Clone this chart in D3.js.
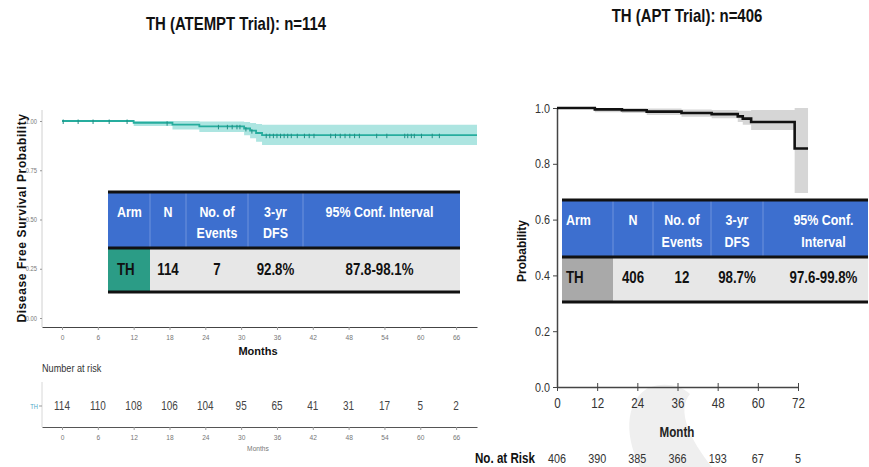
<!DOCTYPE html>
<html>
<head>
<meta charset="utf-8">
<script src="https://cdn.jsdelivr.net/npm/d3@7"></script>
<style>
  html, body { margin: 0; padding: 0; background: #fff; }
  svg { display: block; }
  .narrow { font-family: "Liberation Sans", Arial, sans-serif; }
  .wide { font-family: "Liberation Sans", Arial, sans-serif; }
</style>
</head>
<body>
<svg id="chart" width="869" height="467"></svg>
<script>
// ---- ATEMPT trial (left panel) ----
const atemptTimes  = [0, 12, 18.5, 23, 30.5, 31.5, 32.5, 33.5, 69.5];
const atemptSurv   = [1.0, 0.991, 0.982, 0.973, 0.962, 0.951, 0.939, 0.928, 0.928];
const atemptUpper  = [1.0, 1.0, 1.0, 0.998, 0.995, 0.990, 0.985, 0.981, 0.981];
const atemptLower  = [1.0, 0.974, 0.957, 0.944, 0.928, 0.912, 0.895, 0.878, 0.878];
const atemptCensor = [0.2, 2.7, 5.2, 7.9, 10.9, 17.6, 26.2, 27.7, 28.5, 29.3, 29.8,
  30.8, 31.8, 34.2, 34.8, 35.4, 36.0, 36.6, 37.2, 37.8, 38.4, 39.4, 40.6, 41.4, 42.2,
  45.0, 45.8, 46.6, 47.4, 48.2, 49.0, 49.8, 52.7, 54.4, 57.4, 57.9, 58.5, 59.0, 60.2,
  62.0, 63.2];
const atemptXTicks = [0, 6, 12, 18, 24, 30, 36, 42, 48, 54, 60, 66];
const atemptYTicks = [0, 0.25, 0.5, 0.75, 1.0];
const atemptRisk   = [114, 110, 108, 106, 104, 95, 65, 41, 31, 17, 5, 2];

// ---- APT trial (right panel) ----
const aptTimes  = [0, 11.3, 19.4, 26.8, 37.2, 46.2, 54, 55.5, 58, 71, 75];
const aptSurv   = [1.0, 0.995, 0.992, 0.987, 0.982, 0.978, 0.970, 0.962, 0.950, 0.855, 0.855];
const aptUpper  = [1.0, 1.0, 1.0, 0.998, 0.995, 0.993, 0.990, 0.990, 0.993, 1.0, 1.0];
const aptLower  = [1.0, 0.985, 0.982, 0.975, 0.969, 0.963, 0.950, 0.940, 0.921, 0.695, 0.695];
const aptXTicks = [0, 12, 24, 36, 48, 60, 72];
const aptYTicks = [0, 0.2, 0.4, 0.6, 0.8, 1.0];
const aptRisk   = [406, 390, 385, 366, 193, 67, 5];

// ---- summary tables ----
const atemptHeader = [["Arm"], ["N"], ["No. of", "Events"], ["3-yr", "DFS"], ["95% Conf. Interval"]];
const atemptRow    = ["TH", "114", "7", "92.8%", "87.8-98.1%"];
const aptHeader    = [["Arm"], ["N"], ["No. of", "Events"], ["3-yr", "DFS"], ["95% Conf.", "Interval"]];
const aptRow       = ["TH", "406", "12", "98.7%", "97.6-99.8%"];

const svg = d3.select("#chart");
svg.append("rect").attr("width", 869).attr("height", 467).attr("fill", "#fff");

const toPts = (t, v) => t.map((d, i) => ({ t: d, v: v[i] }));
const toBand = (t, lo, hi) => t.map((d, i) => ({ t: d, lo: lo[i], hi: hi[i] }));

// faint background mark in the lower right
svg.append("path")
  .attr("d", "M648,388 C628,400 622,430 640,467 L712,467 C690,440 676,410 690,394 C680,384 662,382 648,388 Z")
  .attr("fill", "#efefef");

// ================= LEFT PANEL =================
const xL = d3.scaleLinear().domain([-3.35, 69.5]).range([42, 477]);
const yL = d3.scaleLinear().domain([0, 1]).range([318, 121]);

svg.append("text").attr("class", "narrow")
  .attr("x", 236).attr("y", 30).attr("text-anchor", "middle")
  .attr("font-size", 18).attr("font-weight", "bold").attr("fill", "#111")
  .text("TH (ATEMPT Trial): n=114");

// y axis
const gyL = svg.append("g").attr("transform", "translate(42,0)")
  .call(d3.axisLeft(yL).tickValues(atemptYTicks).tickFormat(d3.format(".2f")).tickSize(2).tickSizeOuter(0));
gyL.select(".domain").attr("stroke", "#d0d0d0");
gyL.selectAll(".tick line").attr("stroke", "#999");
gyL.selectAll("text").attr("class", "narrow").attr("font-size", 7).attr("fill", "#777");
gyL.select(".domain").attr("d", "M0,110V327");

// x axis
const gxL = svg.append("g").attr("transform", "translate(0,327)")
  .call(d3.axisBottom(xL).tickValues(atemptXTicks).tickSize(3).tickSizeOuter(0).tickPadding(4));
gxL.select(".domain").attr("stroke", "#444").attr("stroke-width", 1.2);
gxL.selectAll(".tick line").attr("stroke", "#999");
gxL.selectAll("text").attr("class", "narrow").attr("font-size", 8).attr("fill", "#777");

svg.append("text").attr("class", "wide")
  .attr("x", 258).attr("y", 355).attr("text-anchor", "middle")
  .attr("font-size", 11).attr("font-weight", "bold").attr("fill", "#111").text("Months");

svg.append("text").attr("class", "wide")
  .attr("transform", "translate(26,218) rotate(-90)").attr("text-anchor", "middle")
  .attr("font-size", 12).attr("font-weight", "bold").attr("fill", "#111")
  .attr("letter-spacing", 0.6)
  .text("Disease Free Survival Probability");

// confidence band and KM curve
const bandL = d3.area().curve(d3.curveStepAfter)
  .x(d => xL(d.t)).y0(d => yL(d.lo)).y1(d => yL(d.hi));
svg.append("path").datum(toBand(atemptTimes, atemptLower, atemptUpper))
  .attr("d", bandL).attr("fill", "#a4e2de").attr("opacity", 0.9);

const lineL = d3.line().curve(d3.curveStepAfter).x(d => xL(d.t)).y(d => yL(d.v));
svg.append("path").datum(toPts(atemptTimes, atemptSurv))
  .attr("d", lineL).attr("fill", "none").attr("stroke", "#26ad9e").attr("stroke-width", 1.8);

// censoring marks
const survAt = t => atemptSurv[Math.max(0, d3.bisectRight(atemptTimes, t) - 1)];
svg.append("g").selectAll("line").data(atemptCensor).join("line")
  .attr("x1", d => xL(d)).attr("x2", d => xL(d))
  .attr("y1", d => yL(survAt(d)) - 1.5).attr("y2", d => yL(survAt(d)) + 3)
  .attr("stroke", "#1f8f84").attr("stroke-width", 1);

// number at risk
svg.append("text").attr("class", "narrow")
  .attr("x", 42).attr("y", 372).attr("font-size", 11).attr("fill", "#333").text("Number at risk");
svg.append("line").attr("x1", 42).attr("x2", 42).attr("y1", 382).attr("y2", 427)
  .attr("stroke", "#d8d8d8");
svg.append("text").attr("class", "narrow")
  .attr("x", 38).attr("y", 409).attr("text-anchor", "end")
  .attr("font-size", 7).attr("fill", "#4aa8c8").text("TH");
svg.append("line").attr("x1", 39).attr("x2", 42).attr("y1", 406).attr("y2", 406).attr("stroke", "#999");
svg.append("g").selectAll("text").data(atemptRisk).join("text")
  .attr("class", "narrow")
  .attr("x", (d, i) => xL(atemptXTicks[i])).attr("y", 410).attr("text-anchor", "middle")
  .attr("font-size", 12).attr("fill", "#444").text(d => d);

const gxL2 = svg.append("g").attr("transform", "translate(0,427)")
  .call(d3.axisBottom(xL).tickValues(atemptXTicks).tickSize(3).tickSizeOuter(0).tickPadding(4));
gxL2.select(".domain").attr("stroke", "#555").attr("stroke-width", 1.2);
gxL2.selectAll(".tick line").attr("stroke", "#999");
gxL2.selectAll("text").attr("class", "narrow").attr("font-size", 8).attr("fill", "#777");
svg.append("text").attr("class", "narrow")
  .attr("x", 258).attr("y", 451).attr("text-anchor", "middle")
  .attr("font-size", 8).attr("fill", "#777").text("Months");

// ================= RIGHT PANEL =================
const xR = d3.scaleLinear().domain([0, 72]).range([557, 798]);
const yR = d3.scaleLinear().domain([0, 1]).range([387, 108]);

svg.append("text").attr("class", "narrow")
  .attr("x", 687).attr("y", 22).attr("text-anchor", "middle")
  .attr("font-size", 18).attr("font-weight", "bold").attr("fill", "#111")
  .text("TH (APT Trial): n=406");

const gyR = svg.append("g").attr("transform", "translate(557,0)")
  .call(d3.axisLeft(yR).tickValues(aptYTicks).tickFormat(d3.format(".1f")).tickSize(4).tickSizeOuter(0).tickPadding(3));
gyR.select(".domain").attr("stroke", "#444").attr("stroke-width", 1.5);
gyR.selectAll(".tick line").attr("stroke", "#444");
gyR.selectAll("text").attr("class", "narrow").attr("font-size", 13).attr("fill", "#333");

const gxR = svg.append("g").attr("transform", "translate(0,387)")
  .call(d3.axisBottom(xR).tickValues(aptXTicks).tickSize(4).tickSizeOuter(0).tickPadding(7));
gxR.select(".domain").attr("stroke", "#444").attr("stroke-width", 1.5);
gxR.selectAll(".tick line").attr("stroke", "#444").attr("y1", -4);
gxR.selectAll("text").attr("class", "narrow").attr("font-size", 14).attr("fill", "#333");

svg.append("text").attr("class", "narrow")
  .attr("x", 677).attr("y", 437).attr("text-anchor", "middle")
  .attr("font-size", 14).attr("font-weight", "bold").attr("fill", "#222").text("Month");

svg.append("text").attr("class", "wide")
  .attr("transform", "translate(526,251) rotate(-90)").attr("text-anchor", "middle")
  .attr("font-size", 12).attr("font-weight", "bold").attr("fill", "#111").text("Probability");

const bandR = d3.area().curve(d3.curveStepAfter)
  .x(d => xR(d.t)).y0(d => yR(d.lo)).y1(d => yR(d.hi));
svg.append("path").datum(toBand(aptTimes, aptLower, aptUpper))
  .attr("d", bandR).attr("fill", "#d6d6d6");

const lineR = d3.line().curve(d3.curveStepAfter).x(d => xR(d.t)).y(d => yR(d.v));
svg.append("path").datum(toPts(aptTimes, aptSurv))
  .attr("d", lineR).attr("fill", "none").attr("stroke", "#111").attr("stroke-width", 2.6);

svg.append("text").attr("class", "narrow")
  .attr("x", 535).attr("y", 463).attr("text-anchor", "end")
  .attr("font-size", 14).attr("font-weight", "bold").attr("fill", "#111").text("No. at Risk");
svg.append("g").selectAll("text").data(aptRisk).join("text")
  .attr("class", "narrow")
  .attr("x", (d, i) => xR(aptXTicks[i])).attr("y", 463).attr("text-anchor", "middle")
  .attr("font-size", 13).attr("fill", "#333").text(d => d);

// ================= SUMMARY TABLES =================
function drawTable(cfg) {
  const g = svg.append("g");
  const { cols, top, headBottom, rowBottom, header, row, armFill, headSize, rowSize, lineGap, armAlign } = cfg;
  const x0 = cols[0], x1 = cols[cols.length - 1];
  g.append("rect").attr("x", x0).attr("y", top).attr("width", x1 - x0).attr("height", headBottom - top).attr("fill", "#3d6fcf");
  g.append("rect").attr("x", x0).attr("y", headBottom).attr("width", x1 - x0).attr("height", rowBottom - headBottom).attr("fill", "#e7e7e7");
  g.append("rect").attr("x", x0).attr("y", headBottom).attr("width", cols[1] - x0).attr("height", rowBottom - headBottom).attr("fill", armFill);
  // column separators in the header
  cols.slice(1, -1).forEach(c => {
    g.append("line").attr("x1", c).attr("x2", c).attr("y1", top).attr("y2", headBottom)
      .attr("stroke", "#6f93dc").attr("stroke-width", 1);
  });
  [top, headBottom, rowBottom].forEach(y => {
    g.append("line").attr("x1", x0).attr("x2", x1).attr("y1", y).attr("y2", y)
      .attr("stroke", "#111").attr("stroke-width", 3);
  });
  const colX = i => (i === 0 && armAlign) ? armAlign : (cols[i] + cols[i + 1]) / 2 + (cfg.shift ? cfg.shift[i] : 0);
  const anchor = i => (i === 0 && armAlign) ? "start" : "middle";
  header.forEach((lines, i) => {
    lines.forEach((s, j) => {
      g.append("text").attr("class", "narrow")
        .attr("x", colX(i)).attr("y", cfg.headY + j * lineGap)
        .attr("text-anchor", anchor(i))
        .attr("font-size", headSize).attr("font-weight", "bold").attr("fill", "#fff").text(s);
    });
  });
  row.forEach((s, i) => {
    g.append("text").attr("class", "narrow")
      .attr("x", colX(i)).attr("y", cfg.rowY)
      .attr("text-anchor", anchor(i))
      .attr("font-size", rowSize).attr("font-weight", "bold").attr("fill", "#111").text(s);
  });
}

drawTable({
  cols: [108, 150, 186, 248, 303, 460],
  top: 192, headBottom: 248, rowBottom: 292,
  header: atemptHeader, row: atemptRow, armFill: "#2b9c86",
  headSize: 15, rowSize: 16, lineGap: 21, headY: 217, rowY: 275,
  armAlign: 117, shift: [0, 0, 0, 0, -2]
});

drawTable({
  cols: [562, 613, 653, 711, 763, 868],
  top: 200, headBottom: 257, rowBottom: 302,
  header: aptHeader, row: aptRow, armFill: "#a9a9a9",
  headSize: 15, rowSize: 16, lineGap: 22, headY: 225, rowY: 283,
  armAlign: 566, shift: [0, 0, 0, 0, 8]
});

// narrow lettering: squeeze horizontally about each text's own x anchor
svg.selectAll("text.narrow").each(function () {
  const t = d3.select(this);
  const x = +t.attr("x") || 0;
  t.attr("transform", `translate(${x},0) scale(0.83,1) translate(${-x},0)`);
});
</script>
</body>
</html>
